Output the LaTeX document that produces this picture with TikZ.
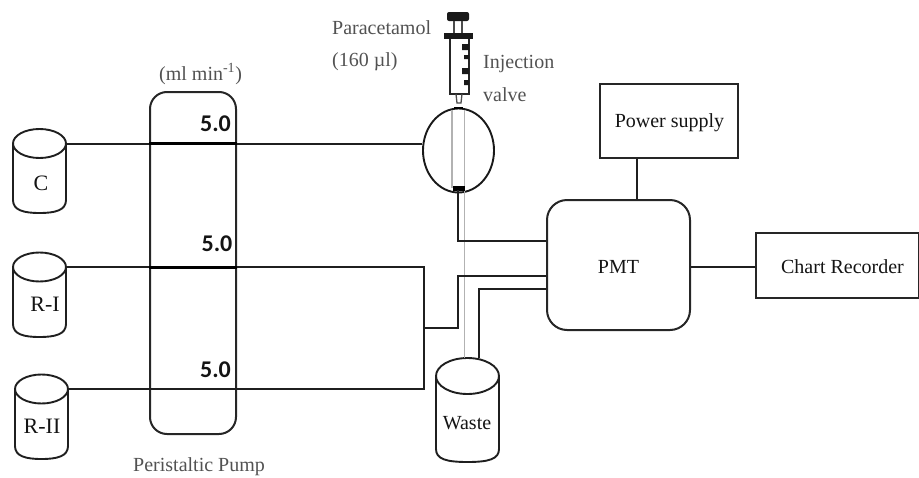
\documentclass[tikz,border=0pt]{standalone}
\usepackage{fontspec}
\usetikzlibrary{shapes.geometric}
\setmainfont{Liberation Serif}
\newfontfamily\numfont{Carlito}
\newcommand{\drum}[7]{% name, left, right, topcentre y, top ry, bottom y, label
  \draw[vessel] (#2,#4) -- (#2,#6-13) .. controls (#2,#6-3) and (#2+10,#6) .. ({(#2+#3)/2},#6)
     .. controls (#3-10,#6) and (#3,#6-3) .. (#3,#6-13) -- (#3,#4);
  \draw[vessel] ({(#2+#3)/2},#4) ellipse ({(#3-#2)/2} and #5);
  \coordinate (#1port) at (#3,#4);
  \coordinate (#1top) at ({(#2+#3)/2},#4-#5);
  \node[#7] (#1) at ({(#2+#3)/2},{#6-(#6-#4-#5)/2}) {};
}
\tikzset{
  x=1pt,y=-1pt,
  vessel/.style={draw=black!88,line width=1.9pt,line join=round},
  tube/.style={draw=black!88,line width=2pt,line join=miter},
  thicktube/.style={draw=black,line width=3pt},
  graytube/.style={draw=black!30,line width=1.6pt},
  box/.style={draw=black!85,line width=2pt,rectangle,inner sep=0pt,align=center},
  label/.style={text=black!68,inner sep=0pt,font=\fontsize{20}{22}\selectfont,anchor=west},
  boxtext/.style={text=black!92,inner sep=0pt,font=\fontsize{20}{22}\selectfont},
  tanktext/.style={text=black!92,inner sep=0pt,font=\fontsize{22}{24}\selectfont},
  rate/.style={text=black!92,inner sep=0pt,font=\numfont\bfseries\fontsize{24}{26}\selectfont},
  plain/.style={inner sep=0pt,minimum size=0pt}
}
\begin{document}
\begin{tikzpicture}
\useasboundingbox (0,0) rectangle (919,477);
% pump
\node[box,rounded corners=17,minimum width=86,minimum height=342] (pump) at (193,263) {};
% vessels
\drum{c}{13}{66}{143.5}{14.5}{213}{plain}
\drum{ri}{13}{66}{267}{14.5}{337}{plain}
\drum{rii}{15}{68}{389}{14.5}{459}{plain}
\drum{waste}{436}{499}{376}{18}{462}{plain}
\node[tanktext] (clab) at (41,183) {C};
\node[tanktext] (rilab) at (45,304) {R-I};
\node[tanktext] (riilab) at (42,426) {R-II};
\node[boxtext] (wastelab) at (467,423) {Waste};
% boxes
\node[box,minimum width=138,minimum height=74] (power) at (669,121) {};
\node[box,rounded corners=20,minimum width=143,minimum height=130] (pmt) at (618.5,265) {};
\node[box,minimum width=163,minimum height=65] (chart) at (837,265.5) {};
\node[boxtext] (powerlab) at (669.5,123) {Power supply};
\node[boxtext] (pmtlab) at (618.5,267) {PMT};
\node[boxtext] (chartlab) at (842.5,267) {Chart Recorder};
% valve
\node[draw=black!90,line width=1.9pt,ellipse,inner sep=0pt,minimum width=71,minimum height=84] (valve) at (458.5,150.5) {};
\coordinate (chTopL) at (452,110);
\coordinate (chBotL) at (452,188);
\coordinate (chTopR) at (464.5,110);
\coordinate (chBotR) at (464.5,188);
\draw[graytube] (chTopL) -- (chBotL);
\draw[graytube] (chTopR) -- (chBotR) -- (chBotR|-wastetop);
\draw[black,line width=4.5pt] (453,188.5) -- (465,188.5);
% syringe
\draw[black!85,line width=1.8pt] (450,39) -- (450,94) -- (469,94) -- (469,39);
\fill[black!90] (444,33) rectangle (473,39);
\fill[black!90,rounded corners=2] (447,12) rectangle (469,21);
\draw[black!70,line width=1.3pt] (454,21) -- (454,33) (462,21) -- (462,33);
\draw[black!70,line width=1.3pt] (456,94) -- (457,103) -- (461,103) -- (462,94);
\fill[black!90] (462,44) rectangle (469,50) (464,55) rectangle (469,59) (462,68) rectangle (469,74) (464,80) rectangle (469,85);
\draw[black,line width=1.8pt] (454,108) -- (463,108);
% tubing
\coordinate (yA) at (0,241);
\coordinate (yB) at (0,276);
\coordinate (yC) at (0,289);
\coordinate (yD) at (0,267);
\coordinate (xP) at (637,0);
\coordinate (junc) at (424,328);
\draw[tube] (cport) -- (valve.west|-cport);
\draw[thicktube] (pump.west|-cport) -- (pump.east|-cport);
\draw[tube] (riport) -- (424,267) -- (424,389) -- (riiport);
\draw[thicktube] (pump.west|-riport) -- (pump.east|-riport);
\draw[tube] (junc) -- (458,328) -- (458,276) -- (pmt.west|-yB);
\draw[tube] (458,190) -- (458,241) -- (pmt.west|-yA);
\draw[tube] (479,358) -- (479,289) -- (pmt.west|-yC);
\draw[tube] (power.south-|xP) -- (pmt.north-|xP);
\draw[tube] (pmt.east|-yD) -- (chart.west|-yD);
% rates
\node[rate] (rate1) at (215.5,124) {5.0};
\node[rate] (rate2) at (217,244) {5.0};
\node[rate] (rate3) at (215.5,370) {5.0};
% labels
\node[label] (para) at (332,28) {Paracetamol};
\node[label] (dose) at (332,62) {(160 µl)};
\node[label] (inj) at (483,64) {Injection};
\node[label] (val) at (483,95) {valve};
\node[label] (unit) at (159,74) {(ml min\textsuperscript{-1})};
\node[label] (peri) at (133,467) {Peristaltic Pump};
\end{tikzpicture}
\end{document}
